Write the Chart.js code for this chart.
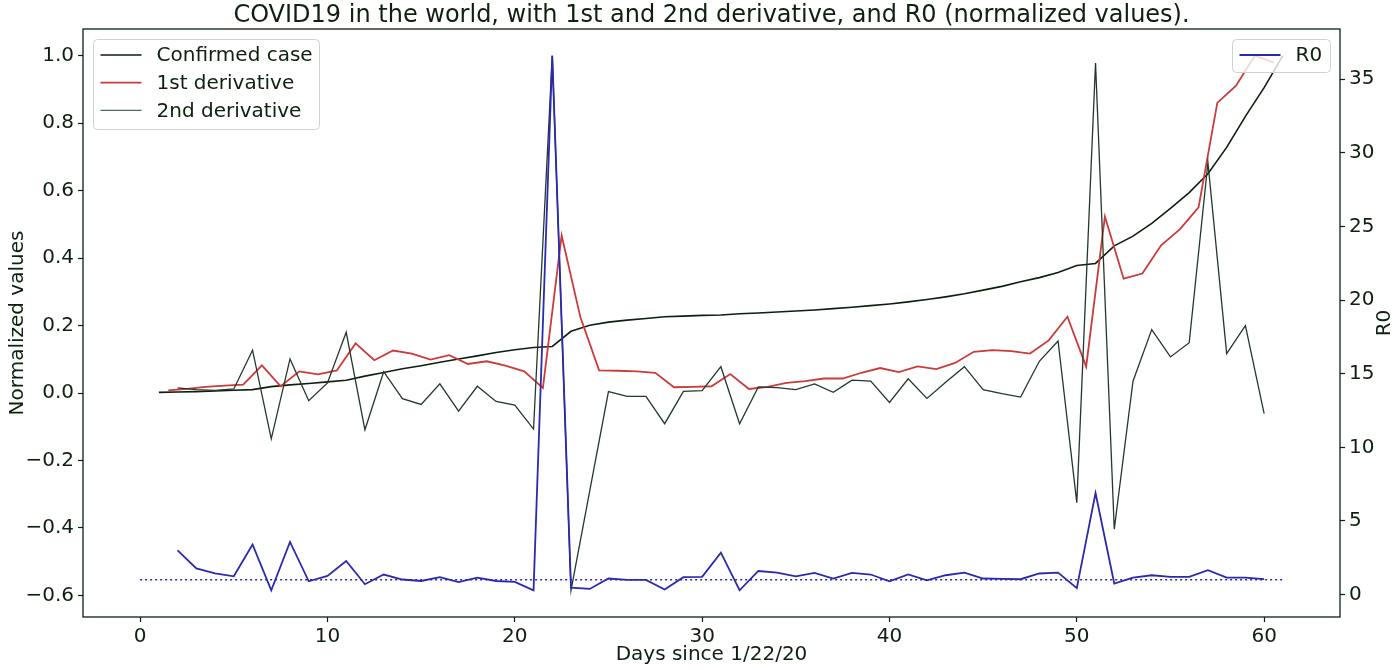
<!DOCTYPE html>
<html>
<head>
<meta charset="utf-8">
<script src="https://cdn.jsdelivr.net/npm/chart.js@4.4.0/dist/chart.umd.min.js"></script>
<style>
  html, body { margin: 0; padding: 0; background: #fff; }
</style>
</head>
<body>
<canvas id="grafico" width="1400" height="670"></canvas>
<script>
// valores normalizados
const casos = [0.002, 0.003, 0.004, 0.006, 0.008, 0.010, 0.019, 0.024, 0.028, 0.033,
  0.038, 0.050, 0.061, 0.072, 0.081, 0.091, 0.101, 0.110, 0.120, 0.128,
  0.135, 0.138, 0.183, 0.201, 0.210, 0.216, 0.221, 0.226, 0.228, 0.230,
  0.231, 0.235, 0.237, 0.240, 0.243, 0.246, 0.250, 0.254, 0.259, 0.264,
  0.270, 0.277, 0.285, 0.294, 0.305, 0.316, 0.330, 0.342, 0.357, 0.378,
  0.384, 0.436, 0.465, 0.503, 0.547, 0.594, 0.650, 0.728, 0.820, 0.905, 1.000];
const derivada1 = [0.008, 0.012, 0.018, 0.022, 0.025, 0.082, 0.020, 0.064, 0.055, 0.067,
  0.147, 0.097, 0.126, 0.117, 0.099, 0.112, 0.086, 0.094, 0.081, 0.064,
  0.015, 0.467, 0.225, 0.067, 0.066, 0.064, 0.060, 0.017, 0.018, 0.020,
  0.056, 0.012, 0.018, 0.030, 0.035, 0.043, 0.043, 0.060, 0.074, 0.062,
  0.079, 0.071, 0.089, 0.122, 0.127, 0.124, 0.117, 0.156, 0.226, 0.078,
  0.523, 0.339, 0.354, 0.438, 0.485, 0.550, 0.860, 0.911, 1.000, 0.980];
const derivada2 = [0.015, 0.010, 0.008, 0.012, 0.127, -0.136, 0.101, -0.023, 0.030, 0.180,
  -0.109, 0.063, -0.017, -0.034, 0.027, -0.054, 0.020, -0.025, -0.036, -0.107,
  1.000, -0.585, -0.290, 0.004, -0.010, -0.010, -0.091, 0.005, 0.007, 0.078,
  -0.091, 0.018, 0.016, 0.010, 0.027, 0.002, 0.038, 0.035, -0.028, 0.042,
  -0.016, 0.032, 0.078, 0.010, -0.002, -0.012, 0.094, 0.154, -0.325, 0.978,
  -0.404, 0.035, 0.188, 0.107, 0.149, 0.683, 0.117, 0.200, -0.061];
const r0 = [3.0, 1.77, 1.43, 1.24, 3.4, 0.29, 3.57, 0.9, 1.27, 2.28,
  0.70, 1.36, 1.02, 0.92, 1.18, 0.84, 1.15, 0.92, 0.86, 0.29,
  36.6, 0.47, 0.38, 1.09, 0.99, 0.99, 0.34, 1.18, 1.2, 2.85,
  0.29, 1.6, 1.49, 1.24, 1.47, 1.09, 1.47, 1.36, 0.9, 1.36,
  0.97, 1.31, 1.49, 1.09, 1.06, 1.04, 1.43, 1.49, 0.43, 6.9,
  0.75, 1.15, 1.31, 1.2, 1.2, 1.65, 1.15, 1.15, 1.04];

// primer dia de cada serie (las derivadas van desplazadas)
const inicioCasos = 1;
const inicioDerivada1 = 1.5;
const inicioDerivada2 = 2;
const inicioR0 = 2;

// linea de referencia R0 = 1
const referenciaDias = [0, 61];
const referenciaValor = 1;

const ticksX = [0, 10, 20, 30, 40, 50, 60];
const ticksIzq = [-0.6, -0.4, -0.2, 0.0, 0.2, 0.4, 0.6, 0.8, 1.0];
const ticksDer = [0, 5, 10, 15, 20, 25, 30, 35];

const titulo = "COVID19 in the world, with 1st and 2nd derivative, and R0 (normalized values).";
const colorTexto = "#0f1f10";
const colorCasos = "#0d1f0e";
const colorD1 = "#cc3a3a";
const colorD2 = "#23382a";
const colorR0 = "#2a2aae";
const fuente = '"DejaVu Sans"';

function puntos(valores, inicio) {
  return valores.map((v, i) => ({ x: inicio + i, y: v }));
}

function formato(v) {
  if (Math.abs(v) < 1e-9) v = 0;
  return v.toFixed(1).replace("-", "\u2212");
}

function cajaLeyenda(ctx, x, y, w, h, items) {
  ctx.save();
  ctx.beginPath();
  ctx.roundRect(x, y, w, h, 4);
  ctx.fillStyle = "rgba(255,255,255,0.8)";
  ctx.fill();
  ctx.strokeStyle = "#d0d0d0";
  ctx.lineWidth = 1;
  ctx.stroke();
  ctx.font = "20px " + fuente;
  ctx.textAlign = "left";
  ctx.textBaseline = "middle";
  items.forEach((it, i) => {
    const yy = y + 15.5 + i * 27.7;
    ctx.beginPath();
    ctx.moveTo(x + 7, yy);
    ctx.lineTo(x + 48, yy);
    ctx.strokeStyle = it.color;
    ctx.lineWidth = it.ancho;
    ctx.stroke();
    ctx.fillStyle = colorTexto;
    ctx.fillText(it.texto, x + 63, yy + 1);
  });
  ctx.restore();
}

const decoracion = {
  id: "decoracion",
  afterDraw(chart) {
    const ctx = chart.ctx;
    const a = chart.chartArea;
    ctx.save();
    ctx.strokeStyle = colorTexto;
    ctx.lineWidth = 1.3;
    ctx.strokeRect(a.left, a.top, a.right - a.left, a.bottom - a.top);

    ctx.fillStyle = colorTexto;
    ctx.textAlign = "center";
    ctx.textBaseline = "middle";
    ctx.font = "24px " + fuente;
    ctx.fillText(titulo, (a.left + a.right) / 2, 16);

    ctx.font = "20px " + fuente;
    ctx.fillText("Days since 1/22/20", (a.left + a.right) / 2, 655);
    const medio = (a.top + a.bottom) / 2;
    ctx.save();
    ctx.translate(18, medio);
    ctx.rotate(-Math.PI / 2);
    ctx.fillText("Normalized values", 0, 0);
    ctx.restore();
    ctx.save();
    ctx.translate(1385, medio);
    ctx.rotate(-Math.PI / 2);
    ctx.fillText("R0", 0, 0);
    ctx.restore();

    cajaLeyenda(ctx, 93.5, 39.5, 226, 90, [
      { texto: "Confirmed case", color: colorCasos, ancho: 1.6 },
      { texto: "1st derivative", color: colorD1, ancho: 1.8 },
      { texto: "2nd derivative", color: "#4f6a5a", ancho: 1.4 }
    ]);
    cajaLeyenda(ctx, 1232.5, 39.5, 98, 33, [
      { texto: "R0", color: colorR0, ancho: 2 }
    ]);
    ctx.restore();
  }
};

function ejeY(pos, min, max, marcas, fmt) {
  return {
    type: "linear",
    position: pos,
    min: min,
    max: max,
    afterBuildTicks: (s) => { s.ticks = marcas.map(v => ({ value: v })); },
    afterFit: (s) => { s.width = pos === "left" ? 83 : 60; },
    border: { display: false },
    grid: { display: true, drawOnChartArea: false, drawTicks: true, tickLength: 5, color: colorTexto, tickWidth: 1.2 },
    ticks: { padding: 4, color: colorTexto, font: { family: "DejaVu Sans", size: 20 }, callback: fmt }
  };
}

const ctx = document.getElementById("grafico").getContext("2d");
const grafico = new Chart(ctx, {
  type: "line",
  data: {
    datasets: [
      { label: "R0", data: puntos(r0, inicioR0), yAxisID: "yDer", borderColor: colorR0, borderWidth: 1.8, order: 0 },
      { label: "R0 = 1", data: referenciaDias.map(d => ({ x: d, y: referenciaValor })), yAxisID: "yDer",
        borderColor: colorR0, borderWidth: 1.6, borderDash: [2, 3], order: 1 },
      { label: "2nd derivative", data: puntos(derivada2, inicioDerivada2), yAxisID: "yIzq", borderColor: colorD2, borderWidth: 1.3, order: 2 },
      { label: "1st derivative", data: puntos(derivada1, inicioDerivada1), yAxisID: "yIzq", borderColor: colorD1, borderWidth: 1.8, order: 3 },
      { label: "Confirmed case", data: puntos(casos, inicioCasos), yAxisID: "yIzq", borderColor: colorCasos, borderWidth: 1.6, order: 4 }
    ]
  },
  options: {
    responsive: false,
    animation: false,
    devicePixelRatio: 1,
    layout: { padding: { top: 29, left: 0, right: 0, bottom: 0 } },
    elements: { point: { radius: 0 }, line: { tension: 0, fill: false } },
    plugins: { legend: { display: false }, tooltip: { enabled: false } },
    scales: {
      x: {
        type: "linear",
        min: -3.05,
        max: 64.05,
        afterBuildTicks: (s) => { s.ticks = ticksX.map(v => ({ value: v })); },
        afterFit: (s) => { s.height = 53; },
        border: { display: false },
        grid: { display: true, drawOnChartArea: false, drawTicks: true, tickLength: 5, color: colorTexto, tickWidth: 1.2 },
        ticks: { padding: 3, maxRotation: 0, color: colorTexto, font: { family: "DejaVu Sans", size: 20 } }
      },
      yIzq: ejeY("left", -0.664, 1.079, ticksIzq, formato),
      yDer: ejeY("right", -1.526, 38.416, ticksDer, (v) => String(v))
    }
  },
  plugins: [decoracion]
});
</script>
</body>
</html>
